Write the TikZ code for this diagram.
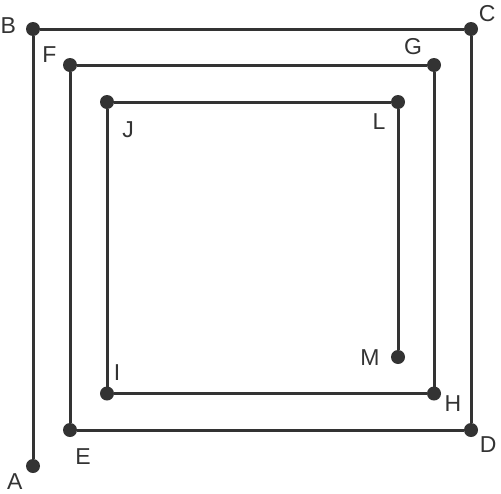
\documentclass[tikz,border=0pt]{standalone}
\usepackage{fontspec}
\setmainfont{Liberation Sans}
\definecolor{dark}{HTML}{333333}

\begin{document}
\begin{tikzpicture}
        [x=1pt,y=-1pt,vertex/.style={draw=none,shape=circle,fill=dark,inner sep=0,outer sep=0,minimum size=14pt},
        every label/.style={font=\fontsize{23}{27}\selectfont,text=dark,anchor=center,inner sep=0},
        edge/.style={line width=3pt,draw=dark}]

        \useasboundingbox (0,0) rectangle (501,493);

        \node[vertex,label={[label distance=17pt]221.6:A}] (vA) at (33, 466) {};
        \node[vertex,label={[label distance=18pt]173:B}] (vB) at (33, 29) {};
        \node[vertex,label={[label distance=15pt]43:C}] (vC) at (471, 29) {};
        \node[vertex,label={[label distance=15.7pt]-41:D}] (vD) at (471, 430) {};
        \node[vertex,label={[label distance=23pt]-64:E}] (vE) at (70, 430) {};
        \node[vertex,label={[label distance=16pt]154.5:F}] (vF) at (70, 65) {};
        \node[vertex,label={[label distance=20.7pt]139:G}] (vG) at (434, 65) {};
        \node[vertex,label={[label distance=14.5pt]-28:H}] (vH) at (434, 393.5) {};
        \node[vertex,label={[label distance=16pt]64.5:I}] (vI) at (107, 393.5) {};
        \node[vertex,label={[label distance=28pt]-53:J}] (vJ) at (107, 102) {};
        \node[vertex,label={[label distance=20pt]225:L}] (vL) at (398, 102) {};
        \node[vertex,label={[label distance=21pt]182:M}] (vM) at (398, 357) {};

        \draw[edge] (vA) -- (vB);
        \draw[edge] (vB) -- (vC);
        \draw[edge] (vC) -- (vD);
        \draw[edge] (vD) -- (vE);
        \draw[edge] (vE) -- (vF);
        \draw[edge] (vF) -- (vG);
        \draw[edge] (vG) -- (vH);
        \draw[edge] (vH) -- (vI);
        \draw[edge] (vI) -- (vJ);
        \draw[edge] (vJ) -- (vL);
        \draw[edge] (vL) -- (vM);

      \end{tikzpicture}
\end{document}
